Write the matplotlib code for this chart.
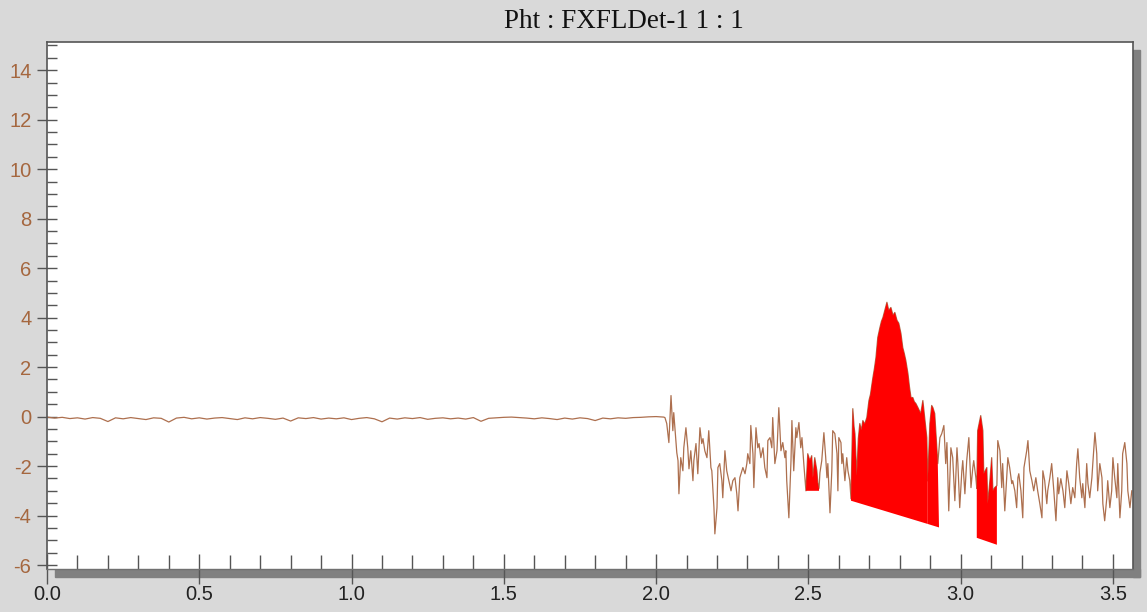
"""Pht : FXFLDet-1 trace with red peak areas, redrawn with matplotlib."""

import numpy as np
import matplotlib
matplotlib.use("Agg")
import matplotlib.pyplot as plt
from matplotlib.patches import Rectangle
from matplotlib.ticker import MultipleLocator, FormatStrFormatter

plt.rcParams["axes.unicode_minus"] = False

# --- data ------------------------------------------------------------------

# quiet baseline, sampled every 0.025 from 0.0 to 2.025
flat_step = 0.025
flat_v = [
    -0.02, -0.06, -0.03, -0.08, -0.05, -0.10, -0.04, -0.07, -0.20, -0.05,
    -0.09, -0.04, -0.08, -0.12, -0.05, -0.07, -0.22, -0.06, -0.03, -0.09,
    -0.05, -0.10, -0.06, -0.04, -0.08, -0.12, -0.05, -0.09, -0.04, -0.07,
    -0.11, -0.06, -0.18, -0.05, -0.08, -0.04, -0.10, -0.06, -0.09, -0.05,
    -0.12, -0.07, -0.04, -0.09, -0.21, -0.06, -0.10, -0.05, -0.08, -0.04,
    -0.11, -0.07, -0.05, -0.09, -0.06, -0.10, -0.04, -0.19, -0.07, -0.05,
    -0.03, -0.02, -0.04, -0.06, -0.09, -0.05, -0.08, -0.12, -0.06, -0.10,
    -0.05, -0.08, -0.16, -0.06, -0.09, -0.05, -0.07, -0.04, -0.03, -0.01,
    0.00, -0.02,
]

# noisy part after ~2.03
noisy_t = [
    2.029, 2.035, 2.042, 2.049, 2.055, 2.058, 2.068, 2.072, 2.075, 2.081,
    2.088, 2.091, 2.098, 2.104, 2.108, 2.114, 2.121, 2.124, 2.131, 2.137,
    2.144, 2.150, 2.154, 2.160, 2.167, 2.173, 2.180, 2.183, 2.190, 2.193,
    2.200, 2.203, 2.209, 2.216, 2.219, 2.226, 2.232, 2.239, 2.246, 2.252,
    2.259, 2.265, 2.269, 2.275, 2.282, 2.285, 2.292, 2.298, 2.301, 2.308,
    2.311, 2.318, 2.321, 2.328, 2.334, 2.338, 2.344, 2.351, 2.357, 2.364,
    2.367, 2.374, 2.380, 2.383, 2.390, 2.397, 2.403, 2.410, 2.416, 2.423,
    2.426, 2.429, 2.436, 2.443, 2.446, 2.452, 2.459, 2.462, 2.469, 2.475,
    2.479, 2.485, 2.492, 2.498, 2.505, 2.511, 2.515, 2.521, 2.528, 2.531,
    2.535, 2.538, 2.544, 2.551, 2.557, 2.561, 2.564, 2.571, 2.577, 2.580,
    2.587, 2.594, 2.597, 2.600, 2.607, 2.610, 2.613, 2.620, 2.626, 2.630,
    2.636, 2.640, 2.646, 2.650, 2.653, 2.659, 2.664, 2.669, 2.674, 2.679,
    2.685, 2.692, 2.699, 2.704, 2.709, 2.712, 2.717, 2.722, 2.728, 2.735,
    2.740, 2.745, 2.751, 2.758, 2.764, 2.771, 2.778, 2.784, 2.791, 2.797,
    2.804, 2.810, 2.815, 2.820, 2.827, 2.832, 2.837, 2.843, 2.848, 2.853,
    2.860, 2.869, 2.876, 2.883, 2.889, 2.892, 2.899, 2.905, 2.909, 2.915,
    2.922, 2.925, 2.932, 2.938, 2.945, 2.951, 2.955, 2.961, 2.968, 2.974,
    2.981, 2.988, 2.991, 2.997, 3.004, 3.007, 3.014, 3.020, 3.027, 3.034,
    3.040, 3.043, 3.050, 3.053, 3.056, 3.066, 3.073, 3.076, 3.086, 3.089,
    3.096, 3.102, 3.106, 3.112, 3.119, 3.122, 3.129, 3.135, 3.138, 3.145,
    3.152, 3.155, 3.161, 3.168, 3.171, 3.178, 3.184, 3.188, 3.191, 3.198,
    3.204, 3.208, 3.217, 3.221, 3.227, 3.234, 3.240, 3.247, 3.253, 3.260,
    3.267, 3.270, 3.276, 3.283, 3.286, 3.293, 3.299, 3.306, 3.313, 3.319,
    3.322, 3.329, 3.336, 3.342, 3.349, 3.355, 3.362, 3.368, 3.375, 3.381,
    3.385, 3.391, 3.398, 3.401, 3.408, 3.414, 3.418, 3.424, 3.431, 3.434,
    3.441, 3.447, 3.450, 3.457, 3.464, 3.467, 3.473, 3.480, 3.483, 3.490,
    3.496, 3.500, 3.506, 3.513, 3.516, 3.523, 3.529, 3.532, 3.539, 3.546,
    3.549, 3.556, 3.562,
]
noisy_v = [
    -0.04, -0.28, -1.05, 0.85, -0.57, 0.16, -1.46, -1.78, -3.12, -1.66,
    -2.19, -1.26, -0.45, -1.26, -2.11, -1.38, -2.59, -1.78, -1.09, -2.31,
    -0.45, -1.09, -0.89, -1.38, -1.66, -0.57, -2.06, -2.19, -3.68, -4.74,
    -3.68, -2.06, -1.90, -2.59, -3.28, -1.38, -2.19, -2.59, -3.00, -2.59,
    -2.47, -3.12, -3.81, -2.47, -2.19, -2.06, -2.31, -1.90, -1.50, -1.90,
    -0.36, -1.50, -2.87, -0.45, -1.26, -1.09, -1.66, -1.26, -2.06, -2.47,
    -0.97, -0.85, -1.26, -0.04, -1.90, -1.38, 0.36, -1.38, -1.05, -1.66,
    -1.38, -2.59, -4.09, -1.78, -0.16, -2.19, -0.45, -0.85, -0.24, -1.26,
    -0.85, -1.90, -3.00, -1.50, -1.78, -1.58, -2.47, -1.66, -2.19, -2.67,
    -2.90, -2.27, -1.78, -0.65, -1.66, -2.47, -1.90, -3.89, -2.19, -0.57,
    -0.69, -1.50, -3.00, -0.85, -1.05, -1.90, -1.50, -2.59, -1.66, -2.19,
    -2.59, -3.32, 0.32, -0.40, -0.69, -2.39, -0.90, -0.28, -0.55, -0.16,
    -0.30, -0.04, 0.65, 0.90, 1.34, 1.58, 1.95, 2.39, 3.20, 3.60,
    3.85, 4.01, 4.29, 4.62, 4.29, 4.41, 4.09, 4.21, 3.89, 3.77,
    3.36, 2.79, 2.55, 2.27, 1.74, 1.20, 0.77, 0.77, 0.60, 0.53,
    0.36, 0.12, 0.65, -0.16, -0.85, -2.60, -0.28, 0.45, 0.36, 0.12,
    -1.26, -1.90, -0.85, -0.69, -0.36, -1.90, -1.05, -3.81, -1.26, -1.66,
    -3.40, -1.26, -1.90, -3.68, -2.19, -1.78, -3.12, -1.78, -0.85, -2.87,
    -2.06, -1.78, -2.47, -2.90, -0.57, 0.04, -0.57, -2.31, -2.06, -3.52,
    -2.59, -1.66, -3.00, -2.87, -2.79, -0.97, -1.38, -2.87, -1.90, -3.81,
    -2.31, -1.66, -2.06, -2.71, -2.59, -3.00, -3.68, -2.47, -2.31, -3.00,
    -4.09, -2.06, -1.38, -0.97, -2.19, -2.59, -3.00, -2.47, -3.00, -3.52,
    -4.09, -2.19, -2.59, -3.52, -3.00, -2.47, -1.90, -3.00, -4.21, -2.47,
    -3.12, -2.51, -3.00, -3.68, -2.19, -2.71, -3.52, -2.87, -3.28, -1.90,
    -1.30, -2.47, -3.28, -2.71, -3.68, -1.90, -2.71, -3.28, -2.47, -1.90,
    -0.65, -1.50, -3.00, -1.90, -2.47, -3.52, -4.21, -3.28, -2.59, -3.68,
    -3.00, -1.66, -2.47, -3.28, -1.90, -4.09, -3.00, -1.50, -1.05, -1.90,
    -3.00, -3.68, -3.00,
]

# red peak areas: start, end, baseline at start, baseline at end
peak_start = [2.492, 2.640, 2.892, 3.053]
peak_end = [2.535, 2.892, 2.929, 3.119]
peak_base_start = [-3.00, -3.40, -4.34, -4.90]
peak_base_end = [-3.00, -4.34, -4.48, -5.18]

x_ticks = [0.0, 0.5, 1.0, 1.5, 2.0, 2.5, 3.0, 3.5]
y_ticks = [-6, -4, -2, 0, 2, 4, 6, 8, 10, 12, 14]

TITLE = "Pht : FXFLDet-1 1 : 1"

BG = "#d9d9d9"
LINE = "#ad6f4e"
RED = "#ff0000"
YLAB = "#a5673f"
TICK = "#555555"


def main() -> None:
    t = np.concatenate([np.arange(len(flat_v)) * flat_step, noisy_t])
    v = np.concatenate([flat_v, noisy_v])

    W, H = 1147, 612
    fig = plt.figure(figsize=(W / 100, H / 100), dpi=100, facecolor=BG)
    ax = fig.add_axes([47 / W, 1 - 569 / H, (1133 - 47) / W, (569 - 42) / H])
    ax.set_facecolor("white")

    # drop shadow below and to the right of the plot area
    fig.add_artist(Rectangle((55 / W, 1 - 577 / H), (1140 - 55) / W, 8 / H,
                             transform=fig.transFigure, color="#808080", zorder=-1))
    fig.add_artist(Rectangle((1133 / W, 1 - 577 / H), 7 / W, (577 - 50) / H,
                             transform=fig.transFigure, color="#808080", zorder=-1))

    ax.plot(t, v, color=LINE, lw=0.9, zorder=2)

    for xs, xe, bs, be in zip(peak_start, peak_end, peak_base_start, peak_base_end):
        m = (t >= xs) & (t <= xe)
        px = np.concatenate([t[m], [xe, xs]])
        py = np.concatenate([v[m], [be, bs]])
        ax.fill(px, py, color=RED, lw=0, zorder=3)

    ax.set_xlim(0, 3.566)
    ax.set_ylim(-6.16, 15.14)

    ax.set_xticks(x_ticks)
    ax.set_yticks(y_ticks)
    ax.xaxis.set_major_formatter(FormatStrFormatter("%.1f"))
    ax.xaxis.set_minor_locator(MultipleLocator(0.1))
    ax.yaxis.set_minor_locator(MultipleLocator(0.5))

    ax.tick_params(axis="x", which="major", direction="inout", length=21.6,
                   width=1.0, color=TICK, pad=1.0, labelsize=14.5,
                   labelcolor="#222222")
    ax.tick_params(axis="x", which="minor", direction="in", length=10,
                   width=1.0, color=TICK)
    ax.tick_params(axis="y", which="major", direction="inout", length=14.4,
                   width=1.0, color=TICK, pad=4.0, labelsize=14.5,
                   labelcolor=YLAB)
    ax.tick_params(axis="y", which="minor", direction="in", length=7.2,
                   width=1.0, color=TICK)
    for lab in ax.get_xticklabels() + ax.get_yticklabels():
        lab.set_family("Liberation Sans")

    for side in ["left", "top", "right"]:
        ax.spines[side].set_color(TICK)
        ax.spines[side].set_linewidth(1.2)
    ax.spines["bottom"].set_color("#707070")
    ax.spines["bottom"].set_linewidth(1.0)

    fig.text(624 / W, 1 - 22 / H, TITLE, ha="center", va="center",
             family="Liberation Serif", size=19.5, color="#111111")

    fig.savefig("out.png", dpi=100, facecolor=BG)


if __name__ == "__main__":
    main()
